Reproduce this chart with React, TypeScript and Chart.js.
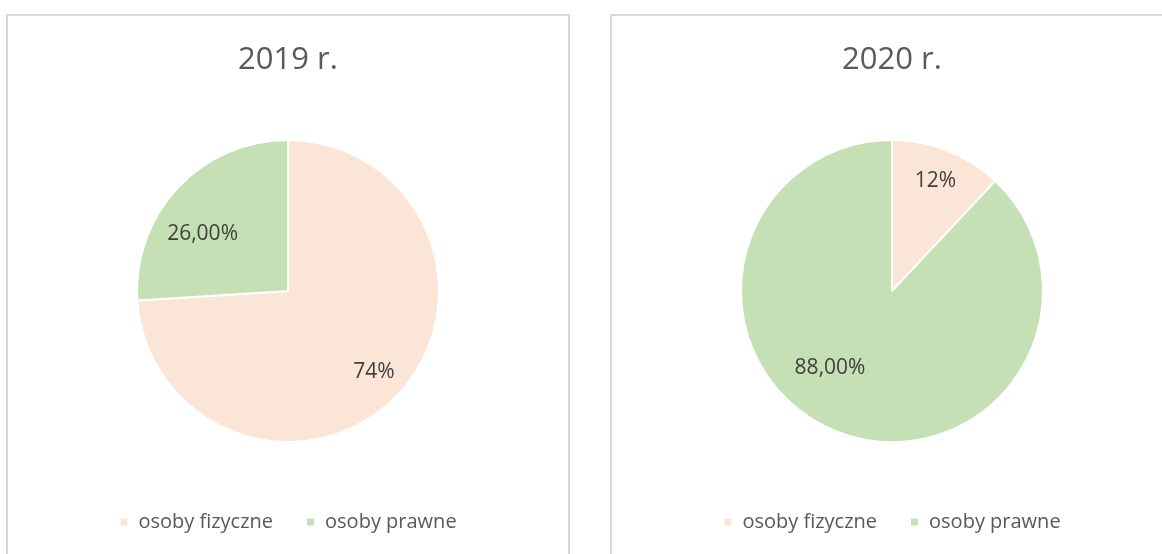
import React, { useEffect, useRef } from "react";
import { Chart, registerables } from "chart.js";

Chart.register(...registerables);

const categories = ["osoby fizyczne", "osoby prawne"];
const titles = ["2019 r.", "2020 r."];
const values2019 = [74, 26];
const values2020 = [12, 88];
const valueLabels2019 = ["74%", "26,00%"];
const valueLabels2020 = ["12%", "88,00%"];
const sliceColors = ["#FBE5D6", "#C5E0B4"];

const FONT = "'Open Sans', 'DejaVu Sans', sans-serif";

const sliceLabelPlugin = {
  id: "sliceLabels",
  afterDatasetsDraw(chart: any, _args: any, opts: any) {
    const meta = chart.getDatasetMeta(0);
    const ctx = chart.ctx;
    ctx.save();
    ctx.font = `21px ${FONT}`;
    ctx.fillStyle = "#404040";
    ctx.textAlign = "center";
    ctx.textBaseline = "middle";
    meta.data.forEach((arc: any, i: number) => {
      const p = arc.getProps(["x", "y", "startAngle", "endAngle", "outerRadius"], true);
      const place = opts.placement[i];
      const a = (p.startAngle + p.endAngle) / 2 + (place.da * Math.PI) / 180;
      const r = p.outerRadius * place.r;
      ctx.fillText(opts.texts[i], p.x + Math.cos(a) * r, p.y + Math.sin(a) * r);
    });
    ctx.restore();
  },
};

type PanelProps = {
  left: number;
  title: string;
  values: number[];
  texts: string[];
  placement: { r: number; da: number }[];
};

function PiePanel({ left, title, values, texts, placement }: PanelProps) {
  const ref = useRef<HTMLCanvasElement | null>(null);
  useEffect(() => {
    if (!ref.current) return;
    const chart = new Chart(ref.current, {
      type: "pie",
      data: {
        labels: categories,
        datasets: [
          {
            data: values,
            backgroundColor: sliceColors,
            borderColor: "#ffffff",
            borderWidth: 2,
            radius: 151,
          } as any,
        ],
      },
      options: {
        animation: false,
        responsive: false,
        events: [],
        layout: { padding: { top: 0, bottom: 12, left: 0, right: 0 } },
        plugins: {
          title: {
            display: true,
            text: title,
            color: "#595959",
            font: { family: FONT, size: 31, weight: "normal", lineHeight: 1.2 },
            padding: { top: 25.4, bottom: 24.4 },
          },
          legend: {
            display: true,
            position: "bottom",
            labels: {
              color: "#595959",
              font: { family: FONT, size: 20 },
              boxWidth: 9,
              boxHeight: 9,
              padding: 33,
            },
          },
          tooltip: { enabled: false },
          sliceLabels: { texts, placement },
        } as any,
      },
      plugins: [sliceLabelPlugin],
    });
    return () => chart.destroy();
  }, []);

  return (
    <div
      style={{
        position: "absolute",
        left,
        top: 14,
        width: 560,
        height: 538,
        borderTop: "2px solid #D9D9D9",
        borderLeft: "2px solid #D9D9D9",
        borderRight: "2px solid #D9D9D9",
        background: "#ffffff",
      }}
    >
      <canvas ref={ref} width={560} height={538} style={{ display: "block", width: 560, height: 538 }} />
    </div>
  );
}

export default function App() {
  return (
    <div
      style={{
        position: "fixed",
        left: 0,
        top: 0,
        width: 1162,
        height: 554,
        overflow: "hidden",
        background: "#ffffff",
      }}
    >
      <PiePanel
        left={6}
        title={titles[0]}
        values={values2019}
        texts={valueLabels2019}
        placement={[
          { r: 0.78, da: 0 },
          { r: 0.68, da: -9.5 },
        ]}
      />
      <PiePanel
        left={610}
        title={titles[1]}
        values={values2020}
        texts={valueLabels2020}
        placement={[
          { r: 0.78, da: 0 },
          { r: 0.655, da: 17.2 },
        ]}
      />
    </div>
  );
}
